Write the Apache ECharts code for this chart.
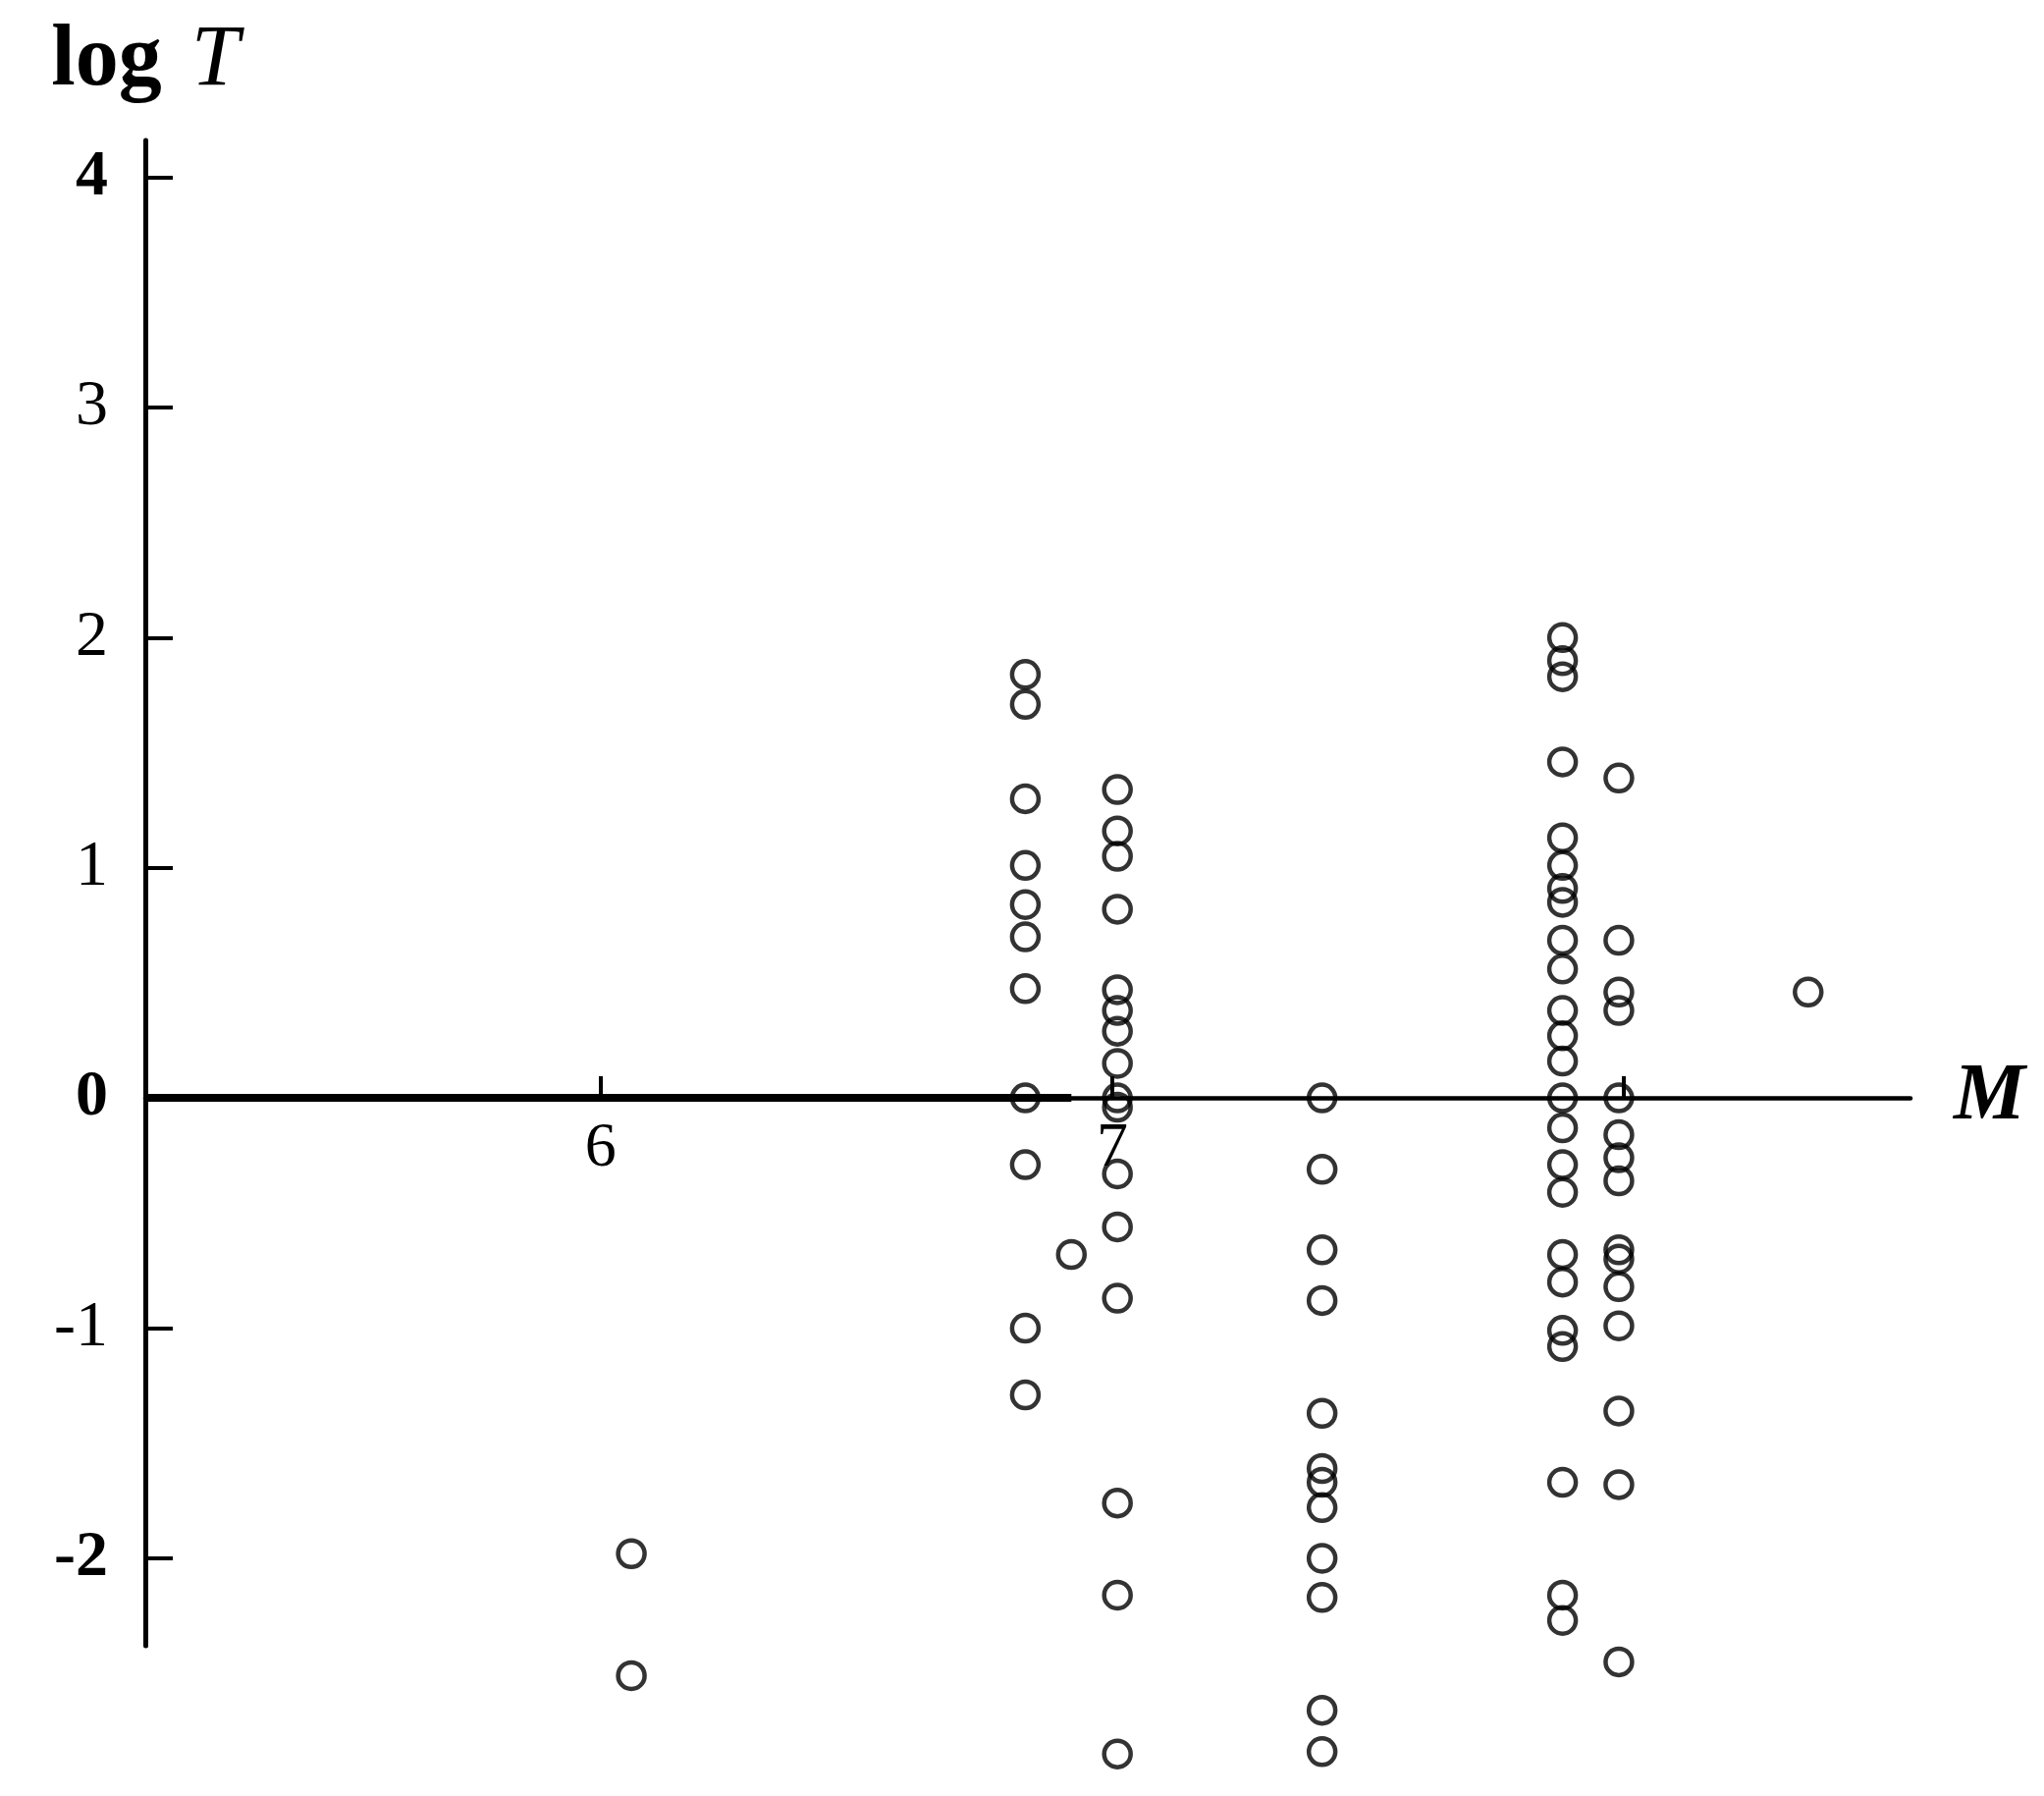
<!DOCTYPE html>
<html>
<head>
<meta charset="utf-8">
<script src="https://cdn.jsdelivr.net/npm/echarts@6/dist/echarts.min.js"></script>
<style>
  html, body { margin: 0; padding: 0; background: #fff; }
  #chart { width: 2082px; height: 1829px; }
</style>
</head>
<body>
<div id="chart"></div>
<script>
// magnitude of each column of points
var magnitudes = [6.06, 6.83, 6.92, 7.01, 7.41, 7.88, 7.99, 8.36];

// log T values read for each magnitude column
var logT_606 = [-1.98, -2.51];
var logT_683 = [1.84, 1.71, 1.30, 1.01, 0.84, 0.70, 0.475, 0, -0.29, -1.0, -1.29];
var logT_692 = [-0.68];
var logT_701 = [1.34, 1.16, 1.05, 0.82, 0.47, 0.38, 0.29, 0.15, 0, -0.04, -0.33, -0.56, -0.87, -1.76, -2.16, -2.85];
var logT_741 = [0, -0.31, -0.66, -0.88, -1.37, -1.61, -1.67, -1.78, -2.00, -2.17, -2.66, -2.84];
var logT_788 = [2.00, 1.90, 1.83, 1.46, 1.13, 1.01, 0.91, 0.85, 0.685, 0.56, 0.38, 0.27, 0.16, 0,
                -0.13, -0.29, -0.41, -0.68, -0.80, -1.01, -1.08, -1.67, -2.16, -2.27];
var logT_799 = [1.39, 0.685, 0.46, 0.38, 0, -0.16, -0.26, -0.36, -0.66, -0.70, -0.82, -0.99, -1.36, -1.68, -2.45];
var logT_836 = [0.46];

var columns = [logT_606, logT_683, logT_692, logT_701, logT_741, logT_788, logT_799, logT_836];

// axis ticks and labels
var yTicks = [-2, -1, 0, 1, 2, 3, 4];
var yBold = [4, 0, -2];
var xTicks = [6, 7, 8];
var xLabels = [6, 7];

(function () {
    var points = [];
    columns.forEach(function (vals, i) {
        vals.forEach(function (v) { points.push([magnitudes[i], v]); });
    });

    var W = 2082, H = 1829;
    var grid = { left: 148, right: 136, top: 143, bottom: 153 };
    var xMin = 5.11, xMax = 8.56, yMin = -2.38, yMax = 4.16;
    // the M axis crosses at log T = 0; move the whole axis (line, ticks, labels) there
    var zeroOffset = -(0 - yMin) / (yMax - yMin) * (H - grid.top - grid.bottom);

    var serif = "'Liberation Serif', 'DejaVu Serif', serif";
    var chart = echarts.init(document.getElementById('chart'));

    var option = {
        animation: false,
        backgroundColor: '#fff',
        grid: { left: grid.left, right: grid.right, top: grid.top, bottom: grid.bottom, containLabel: false, outerBoundsMode: 'none' },
        xAxis: {
            type: 'value',
            position: 'bottom',
            offset: zeroOffset,
            min: xMin,
            max: xMax,
            name: 'M',
            nameLocation: 'end',
            nameGap: 44,
            nameTextStyle: { fontFamily: serif, fontStyle: 'italic', fontWeight: 'bold', fontSize: 82, color: '#000' },
            axisLine: { onZero: false, lineStyle: { color: '#000', width: 4.5 } },
            axisTick: { inside: true, length: 22, customValues: xTicks, lineStyle: { color: '#000', width: 4 } },
            axisLabel: { customValues: xLabels, margin: 20, fontFamily: serif, fontSize: 64, color: '#000' },
            splitLine: { show: false }
        },
        yAxis: {
            type: 'value',
            min: yMin,
            max: yMax,
            name: '{a|log}{b|T}',
            nameLocation: 'end',
            nameGap: 36,
            nameTextStyle: {
                rich: {
                    a: { fontFamily: serif, fontWeight: 'bold', fontSize: 88, color: '#000', padding: [0, 30, 0, 0] },
                    b: { fontFamily: serif, fontStyle: 'italic', fontSize: 88, color: '#000' }
                }
            },
            axisLine: { show: true, onZero: false, lineStyle: { color: '#000', width: 5 } },
            axisTick: { inside: true, length: 28, customValues: yTicks, lineStyle: { color: '#000', width: 4 } },
            axisLabel: {
                customValues: yTicks,
                margin: 38,
                formatter: function (v) {
                    return (yBold.indexOf(v) >= 0 ? '{b|' : '{n|') + v + '}';
                },
                rich: {
                    b: { fontFamily: serif, fontWeight: 'bold', fontSize: 66, color: '#000' },
                    n: { fontFamily: serif, fontSize: 66, color: '#000' }
                }
            },
            splitLine: { show: false }
        },
        series: [
            {
                // heavier left part of the M axis, as in the print
                name: 'axisHeavy',
                type: 'line',
                data: [[xMin, 0], [6.92, 0]],
                symbol: 'none',
                silent: true,
                lineStyle: { color: '#000', width: 8 },
                z: 1
            },
            {
                name: 'events',
                type: 'scatter',
                data: points,
                clip: false,
                symbol: 'circle',
                symbolSize: 27,
                itemStyle: { color: 'rgba(0,0,0,0)', borderColor: '#000', borderWidth: 4.5 },
                emphasis: { disabled: true },
                z: 3
            }
        ]
    };
    chart.setOption(option);
}());
</script>
</body>
</html>
